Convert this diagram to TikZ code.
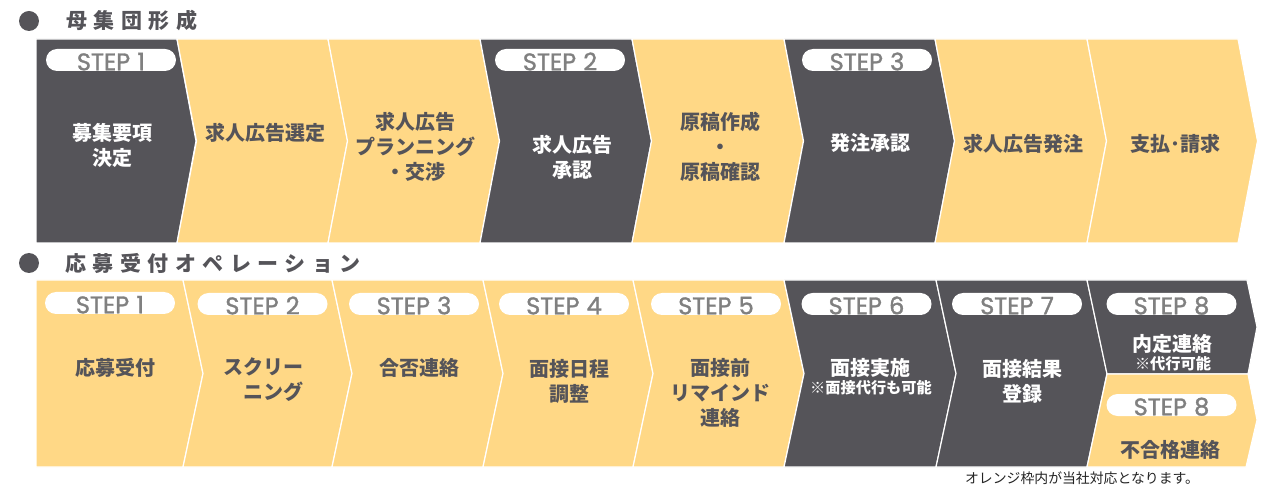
\documentclass[tikz,border=0pt]{standalone}
\usepackage{fontspec}
\setmainfont{Noto Sans CJK JP}
\newfontfamily\stepfont{Poppins}[FakeBold=1.3]
\usepackage{xcolor}
\definecolor{ink}{RGB}{85,84,89}
\definecolor{sun}{RGB}{255,216,134}
\definecolor{pillgray}{RGB}{128,128,128}
\definecolor{foottxt}{RGB}{35,35,35}
\tikzset{
  chev/.style={draw=white,line width=0.9pt},
  dot/.style={circle,fill=ink,inner sep=0pt,minimum size=15pt},
  head/.style={font=\bfseries\fontsize{15.75}{18}\selectfont\addfontfeatures{LetterSpace=31},text=ink,inner sep=0pt,anchor=west},
  lab/.style={font=\bfseries\fontsize{15}{18.75}\selectfont,align=center,inner sep=0pt},
  labd/.style={lab,text=ink},
  labw/.style={lab,text=white},
  note/.style={font=\bfseries\fontsize{11.4}{12}\selectfont,inner sep=0pt,text=white},
  pill/.style={fill=white,rounded corners=8.25pt,minimum width=97.5pt,minimum height=16.5pt,inner sep=0pt},
  steptxt/.style={font=\stepfont\fontsize{18}{18}\selectfont,text=pillgray,anchor=base,inner sep=0pt},
  foot/.style={font=\fontsize{10.4}{12}\selectfont,text=foottxt,inner sep=0pt},
}
\newcommand{\steppill}[4]{%
  \node[pill] (#1) at (#2,#3+11) {};
  \node[steptxt] (#1t) at ([yshift=0.75pt]#1.south) {STEP\hspace{0.3em}#4};}

\begin{document}
\begin{tikzpicture}[x=0.75pt,y=-0.75pt]
  \useasboundingbox (0,0) rectangle (1280,491);
  % section headings
  \node[dot] (d1) at (29,21) {};
  \node[head] (h1) at (66,21) {母集団形成};
  \node[dot] (d2) at (29,263) {};
  \node[head] (h2) at (65,263) {応募受付オペレーション};

  % top row
  \filldraw[chev,fill=ink] (36,39) -- (177,39) -- (196,141) -- (177,243) -- (36,243) -- cycle;
  \foreach \a/\b/\c in {177/328/sun,328/480/sun,480/632/ink,632/784/sun,784/935/ink,935/1087/sun,1087/1238/sun}
    \filldraw[chev,fill=\c] (\a,39) -- (\b,39) -- (\b+19.5,141) -- (\b,243) -- (\a,243) -- (\a+19.5,141) -- cycle;
  \steppill{p1}{111}{49}{1}
  \steppill{p4}{560}{49}{2}
  \steppill{p6}{867}{49}{3}
  \node[labw] (t1) at (112,145) {募集要項\\決定};
  \node[labd] (t2) at (265,133) {求人広告選定};
  \node[labd] (t3) at (415,147) {求人広告\\プランニング\\・交渉};
  \node[labw] (t4) at (572,157) {求人広告\\承認};
  \node[labd] (t5) at (720,147) {原稿作成\\・\\原稿確認};
  \node[labw] (t6) at (870,143) {発注承認};
  \node[labd] (t7) at (1023,144) {求人広告発注};
  \node[labd] (t8) at (1175,144) {支払･請求};

  % bottom row
  \filldraw[chev,fill=sun] (36,280) -- (183,280) -- (203,373.5) -- (183,467) -- (36,467) -- cycle;
  \foreach \a/\b/\c in {183/332/sun,332/483/sun,483/633/sun,633/784/sun,784/936/ink,936/1087/ink}
    \filldraw[chev,fill=\c] (\a,280) -- (\b,280) -- (\b+20,373.5) -- (\b,467) -- (\a,467) -- (\a+20,373.5) -- cycle;
  \filldraw[chev,fill=ink] (1087,280) -- (1247,280) -- (1257,327) -- (1248,374) -- (1107,374) -- cycle;
  \filldraw[chev,fill=sun] (1107,374) -- (1248,374) -- (1257,420) -- (1246,467) -- (1087,467) -- cycle;
  \steppill{q1}{110}{292}{1}
  \steppill{q2}{262.5}{293}{2}
  \steppill{q3}{414}{293}{3}
  \steppill{q4}{564}{293}{4}
  \steppill{q5}{716}{293}{5}
  \steppill{q6}{866.5}{293}{6}
  \steppill{q7}{1017}{293}{7}
  \steppill{q8}{1171.5}{293}{8}
  \steppill{q9}{1171.5}{394}{8}
  \node[labd] (b1) at (115,368) {応募受付};
  \node[labd,align=left,anchor=west] (b2) at (223,380) {スクリー\\　ニング};
  \node[labd] (b3) at (419,368) {合否連絡};
  \node[labd] (b4) at (569,381) {面接日程\\調整};
  \node[labd] (b5) at (720,393) {面接前\\リマインド\\連絡};
  \node[labw] (b6) at (870,368) {面接実施};
  \node[note] (b6n) at (871,388) {※面接代行も可能};
  \node[labw] (b7) at (1022,381.5) {面接結果\\登録};
  \node[labw] (b8) at (1172,344) {内定連絡};
  \node[note] (b8n) at (1173,364) {※代行可能};
  \node[labd] (b9) at (1170,450) {不合格連絡};

  \node[foot] (fn) at (1082,478) {オレンジ枠内が当社対応となります。};
\end{tikzpicture}
\end{document}
